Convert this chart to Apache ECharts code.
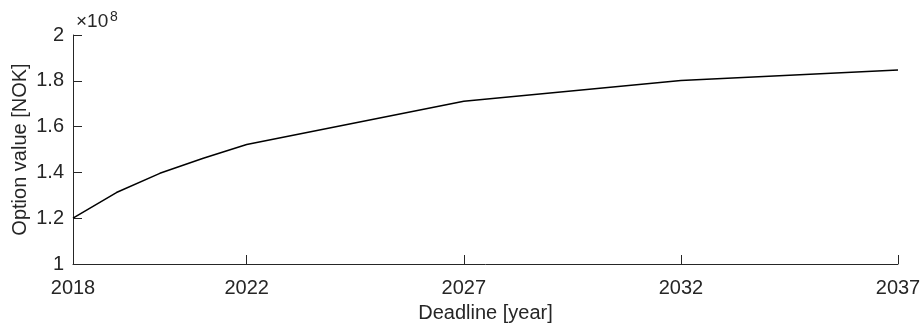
<!DOCTYPE html>
<html>
<head>
<meta charset="utf-8">
<style>
  html, body { margin: 0; padding: 0; background: #ffffff; }
  #chart { width: 920px; height: 324px; }
</style>
<script src="https://cdn.jsdelivr.net/npm/echarts@6/dist/echarts.min.js"></script>
</head>
<body>
<div id="chart"></div>
<script>
// Deadline years and the option value at each deadline (NOK)
const years = [2018, 2019, 2020, 2021, 2022, 2027, 2032, 2037];
const optionValues = [1.200e8, 1.312e8, 1.396e8, 1.462e8, 1.522e8, 1.711e8, 1.801e8, 1.847e8];

// Labelled deadlines on the x axis
const xTicks = [2018, 2022, 2027, 2032, 2037];

const FONT = 'Liberation Sans, Arial, Helvetica, sans-serif';
const INK = '#262626';
const FS = 20;

const chart = echarts.init(document.getElementById('chart'), null, { renderer: 'canvas' });

chart.setOption({
  animation: false,
  backgroundColor: '#ffffff',
  grid: { left: 73, top: 35, width: 825, height: 229, containLabel: false, outerBoundsMode: 'none' },
  xAxis: {
    type: 'value',
    min: 2018,
    max: 2037,
    name: 'Deadline [year]',
    nameLocation: 'middle',
    nameGap: 39,
    nameMoveOverlap: false,
    nameTextStyle: { color: INK, fontFamily: FONT, fontSize: FS },
    axisLine: { show: true, onZero: false, lineStyle: { color: INK, width: 1 } },
    axisTick: { show: true, inside: true, length: 9, customValues: xTicks, lineStyle: { color: INK } },
    axisLabel: {
      color: INK, fontFamily: FONT, fontSize: FS, margin: 14,
      customValues: xTicks,
      formatter: v => String(v)
    },
    splitLine: { show: false }
  },
  yAxis: {
    type: 'value',
    min: 1e8,
    max: 2e8,
    interval: 2e7,
    name: 'Option value [NOK]',
    nameLocation: 'middle',
    nameGap: 43,
    nameMoveOverlap: false,
    nameTextStyle: { color: INK, fontFamily: FONT, fontSize: FS },
    axisLine: { show: true, lineStyle: { color: INK, width: 1 } },
    axisTick: { show: true, inside: true, length: 9, lineStyle: { color: INK } },
    axisLabel: {
      color: INK, fontFamily: FONT, fontSize: FS, margin: 9,
      formatter: v => String(+(v / 1e8).toFixed(1))
    },
    splitLine: { show: false }
  },
  // Exponent of the y axis scale
  graphic: [
    {
      type: 'text',
      x: 76,
      y: 22,
      style: {
        text: '×10',
        fill: INK,
        fontSize: 19,
        fontFamily: FONT,
        verticalAlign: 'middle',
        align: 'left'
      }
    },
    {
      type: 'text',
      x: 110,
      y: 17,
      style: {
        text: '8',
        fill: INK,
        fontSize: 14,
        fontFamily: FONT,
        verticalAlign: 'middle',
        align: 'left'
      }
    }
  ],
  series: [{
    type: 'line',
    data: years.map((y, i) => [y, optionValues[i]]),
    showSymbol: false,
    symbol: 'none',
    lineStyle: { color: '#000000', width: 1.5 },
    clip: false
  }]
});
</script>
</body>
</html>
